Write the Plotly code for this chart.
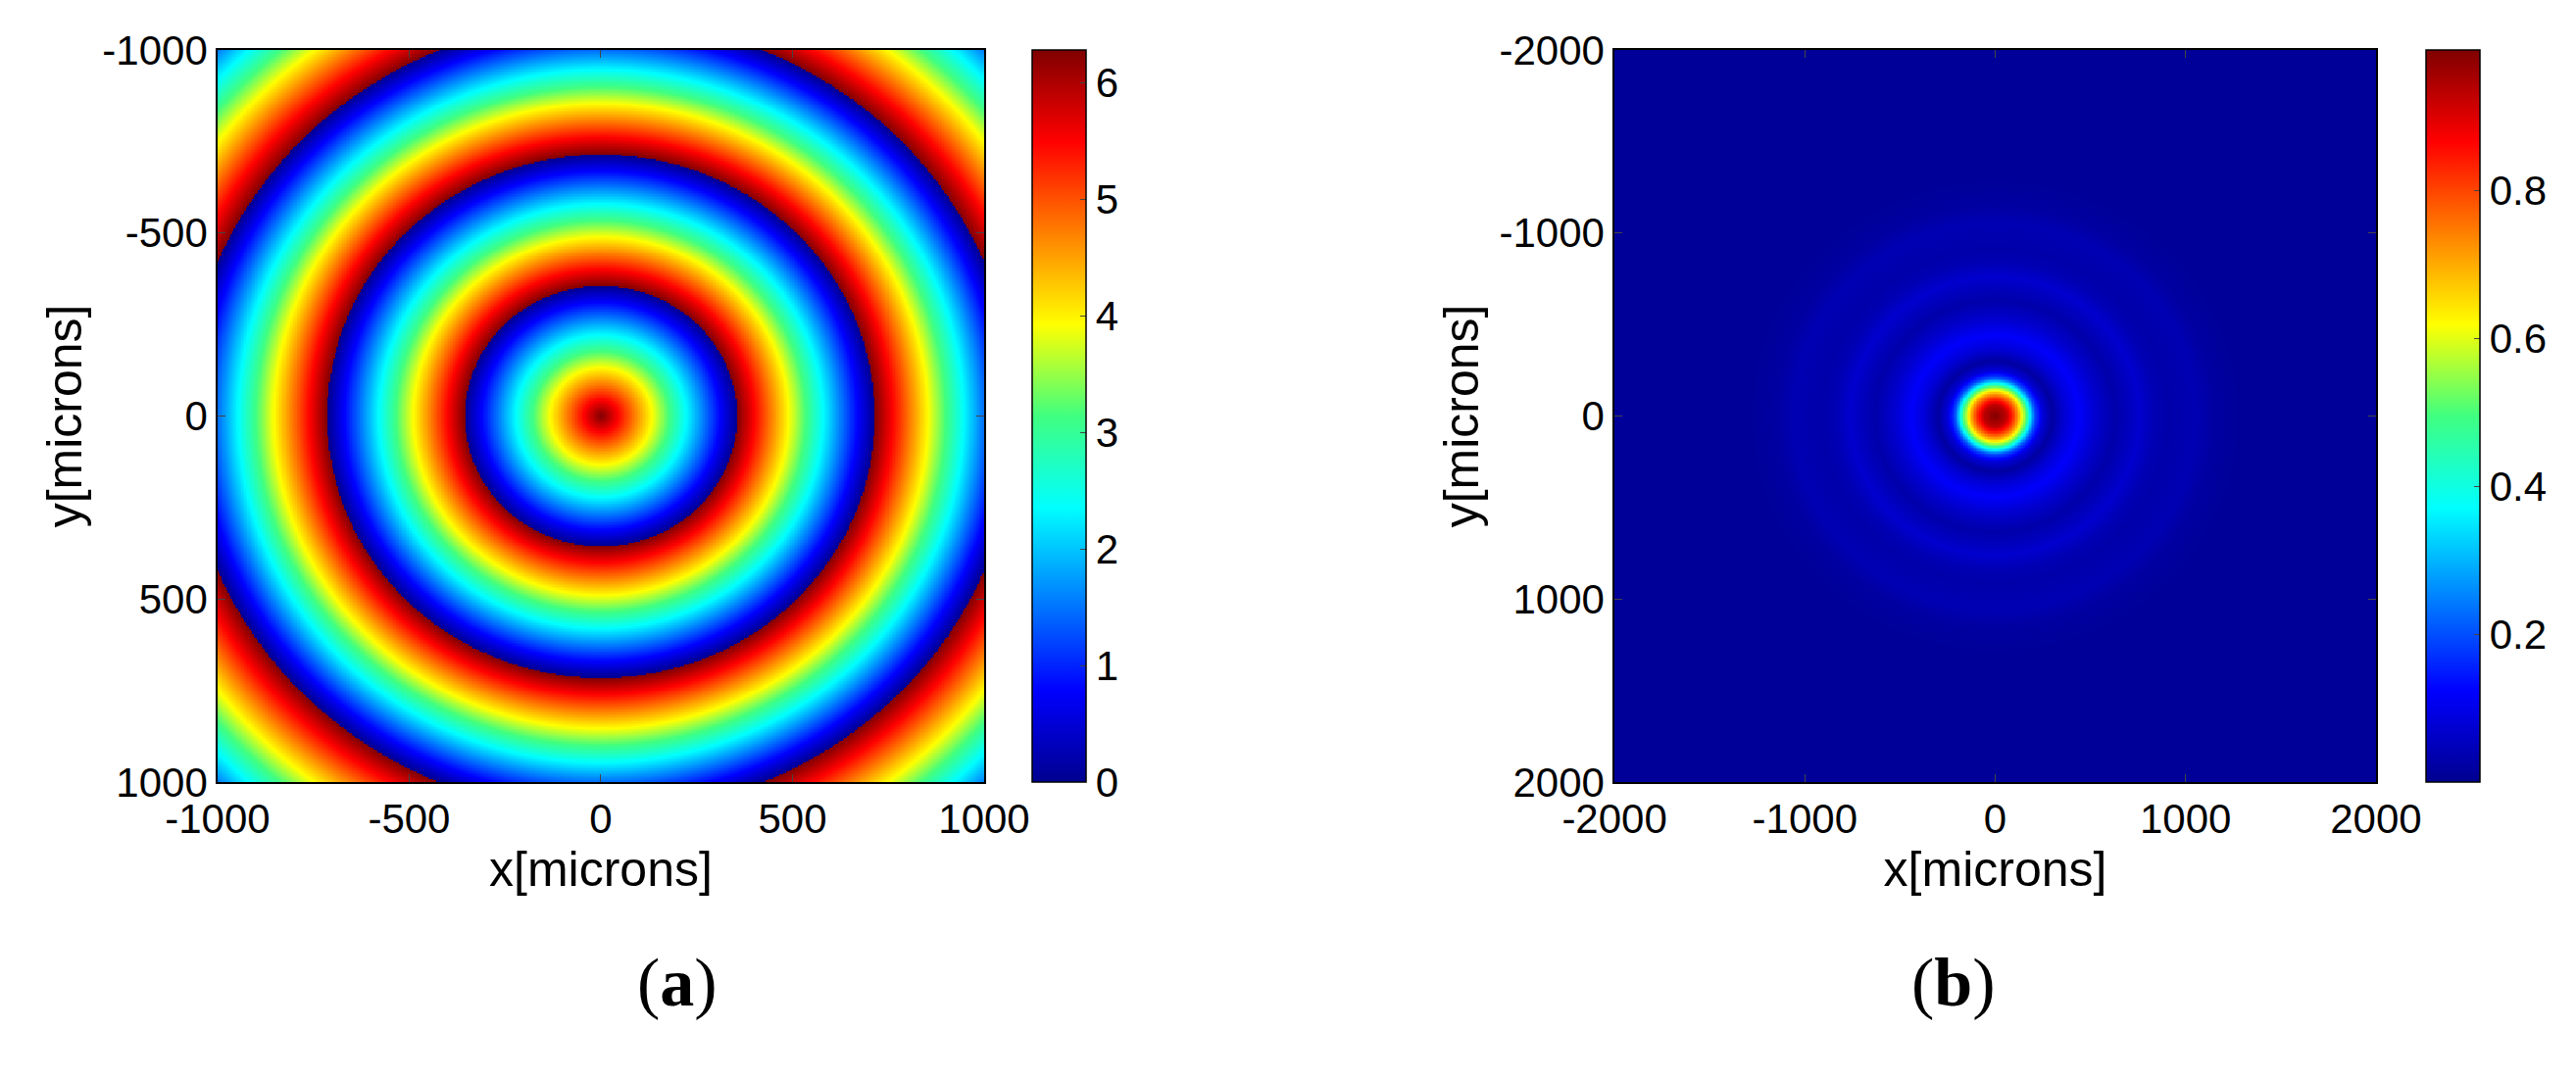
import numpy as np
import plotly.graph_objects as go

# (a) phase map: radii (microns) where the wrapped phase drops back to 0, read from the rings
ring_radius_um = [0, 355, 714, 1085, 1520]
ring_cycle = [0, 1, 2, 3, 4]

# (b) intensity: radial profile
prof_r_um = [0, 60, 100, 125, 145, 165, 185, 210, 250, 300, 370, 440, 530, 630,
             700, 760, 840, 910, 990, 1060, 1150, 1300, 2900]
prof_i = [0.99, 0.93, 0.8, 0.7, 0.6, 0.5, 0.35, 0.2, 0.08, 0.02, 0.08, 0.12, 0.07, 0.03,
          0.05, 0.07, 0.04, 0.03, 0.035, 0.04, 0.02, 0.01, 0.01]

ticks_a = [-1000, -500, 0, 500, 1000]
ticks_b = [-2000, -1000, 0, 1000, 2000]

jet = [[0.0, '#00008f'], [0.125, '#0000ff'], [0.375, '#00ffff'], [0.5, '#40ff80'],
       [0.625, '#ffff00'], [0.875, '#ff0000'], [1.0, '#800000']]

xa = np.linspace(-1000, 1000, 501)
Xa, Ya = np.meshgrid(xa, xa)
cycles = np.interp(np.hypot(Xa, Ya), ring_radius_um, ring_cycle)
phase = 2 * np.pi * (1 - np.mod(cycles, 1.0))

xb = np.linspace(-2000, 2000, 501)
Xb, Yb = np.meshgrid(xb, xb)
inten = np.interp(np.hypot(Xb, Yb), prof_r_um, prof_i)

font = dict(family='Liberation Sans, Arial', size=42, color='black')


def cbar(x, vals):
    return dict(x=x, xanchor='left', xref='paper', y=0.2825, yanchor='bottom',
                len=0.6785, lenmode='fraction', thickness=55, xpad=0, ypad=0,
                outlinewidth=1.5, outlinecolor='black',
                tickvals=vals, ticks='inside', ticklen=6, tickfont=font)


fig = go.Figure()
fig.add_trace(go.Heatmap(x=xa, y=xa, z=phase, colorscale=jet, zmin=0, zmax=2 * np.pi,
                         xaxis='x', yaxis='y', colorbar=cbar(0.3977, [0, 1, 2, 3, 4, 5, 6])))
fig.add_trace(go.Heatmap(x=xb, y=xb, z=inten, colorscale=jet, zmin=0, zmax=0.99,
                         xaxis='x2', yaxis='y2', colorbar=cbar(0.9387, [0.2, 0.4, 0.6, 0.8])))

ax = dict(showgrid=False, zeroline=False, ticks='inside', ticklen=8, mirror='ticks',
          showline=True, linecolor='black', linewidth=1.5, tickfont=font, automargin=False)
fig.update_layout(
    width=2628, height=1101, margin=dict(l=0, r=0, t=0, b=0, autoexpand=False),
    paper_bgcolor='white', plot_bgcolor='white', font=font,
    xaxis=dict(ax, domain=[0.0814, 0.379], range=[-1000, 1000], anchor='y',
               tickvals=ticks_a, ticktext=[str(t) for t in ticks_a],
               title=dict(text='x[microns]', standoff=5)),
    yaxis=dict(ax, domain=[0.2825, 0.961], range=[1000, -1000], anchor='x',
               tickvals=ticks_a, ticktext=[str(t) for t in ticks_a],
               title=dict(text='y[microns]', standoff=5)),
    xaxis2=dict(ax, domain=[0.6237, 0.9193], range=[-2000, 2000], anchor='y2',
                tickvals=ticks_b, ticktext=[str(t) for t in ticks_b],
                title=dict(text='x[microns]', standoff=5)),
    yaxis2=dict(ax, domain=[0.2825, 0.961], range=[2000, -2000], anchor='x2',
                tickvals=ticks_b, ticktext=[str(t) for t in ticks_b],
                title=dict(text='y[microns]', standoff=5)),
    annotations=[
        dict(text='(<b>a</b>)', x=0.2435, y=0.06, xref='paper', yref='paper', showarrow=False,
             font=dict(family='Liberation Serif', size=70, color='black')),
        dict(text='(<b>b</b>)', x=0.7725, y=0.06, xref='paper', yref='paper', showarrow=False,
             font=dict(family='Liberation Serif', size=70, color='black')),
    ],
)

fig.write_html("out.html")
